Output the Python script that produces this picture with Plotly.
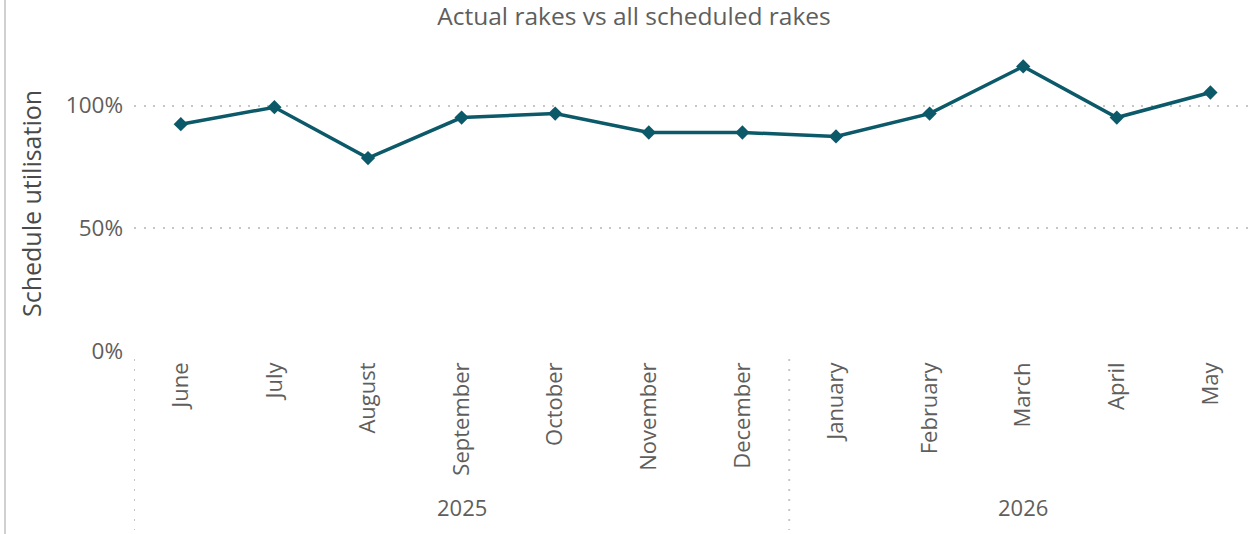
import plotly.graph_objects as go

months = ["June", "July", "August", "September", "October", "November", "December",
          "January", "February", "March", "April", "May"]
years = ["2025", "2026"]
year_span = [7, 5]  # number of months in each year group
utilisation = [0.924, 0.993, 0.786, 0.951, 0.967, 0.890, 0.890,
               0.874, 0.967, 1.159, 0.951, 1.053]
y_ticks = [0, 0.5, 1.0]

W, H = 1254, 534
ml, mr, mt, mb = 134, 5, 40, 183
pw = W - ml - mr
ph = H - mt - mb
px_per_cat = 93.6
px_per_unit = 245.5

FONT = "Open Sans"
TEXT = "#605E5C"
LINE = "#0B5969"
GRID = "#C8C6C4"

x_idx = list(range(len(months)))

fig = go.Figure()
fig.add_trace(go.Scatter(
    x=x_idx, y=utilisation, mode="lines+markers",
    line=dict(color=LINE, width=3.5),
    marker=dict(symbol="diamond", size=11, color=LINE),
    showlegend=False,
    hovertemplate="%{text}: %{y:.1%}<extra></extra>",
    text=months,
))

shapes = []
annotations = []
# year separators and labels
start = 0
bottom = -(H - mt - ph - 4) / ph
for yr, n in zip(years, year_span):
    shapes.append(dict(type="line", xref="x", yref="paper",
                       x0=start - 0.5, x1=start - 0.5, y0=-8 / ph, y1=bottom,
                       line=dict(color=GRID, width=2, dash="2px,8px")))
    annotations.append(dict(xref="x", yref="paper", x=start + (n - 1) / 2,
                            y=(351 - 507) / ph, yanchor="middle", showarrow=False,
                            text=yr, font=dict(family=FONT, size=22, color=TEXT)))
    start += n
# y-axis title
annotations.append(dict(xref="paper", yref="paper", x=(31 - ml) / pw,
                        y=(351 - 204) / ph, xanchor="center", yanchor="middle",
                        showarrow=False, textangle=-90, text="Schedule utilisation",
                        font=dict(family=FONT, size=25, color="#4A4A4A")))
# left border of the visual
shapes.append(dict(type="line", xref="paper", yref="paper",
                   x0=(5 - ml) / pw, x1=(5 - ml) / pw, y0=-(mb) / ph, y1=(mt + ph) / ph,
                   line=dict(color="#D0D0D0", width=2)))

fig.update_layout(
    width=W, height=H,
    margin=dict(l=ml, r=mr, t=mt, b=mb),
    paper_bgcolor="white", plot_bgcolor="white",
    title=dict(text="Actual rakes vs all scheduled rakes", x=634 / W, xref="container",
               xanchor="center", y=1 - 16.5 / H, yanchor="middle",
               font=dict(family=FONT, size=24.5, color=TEXT)),
    xaxis=dict(tickmode="array", tickvals=x_idx, ticktext=months, tickangle=-90,
               range=[-0.5, -0.5 + pw / px_per_cat], showgrid=False, zeroline=False,
               showline=False, ticks="", tickfont=dict(family=FONT, size=22, color=TEXT),
               ticklabelstandoff=6),
    yaxis=dict(range=[0, ph / px_per_unit], tickvals=y_ticks, tickformat=".0%",
               showgrid=True, gridcolor=GRID, griddash="2px,7.5px", gridwidth=2,
               zeroline=False, showline=False, ticks="", ticklabelstandoff=10,
               tickfont=dict(family=FONT, size=22.5, color=TEXT)),
    shapes=shapes, annotations=annotations,
    font=dict(family=FONT, color=TEXT),
)

fig.write_html("out.html", config={"displayModeBar": False},
               post_script="document.body.style.margin='0';")
